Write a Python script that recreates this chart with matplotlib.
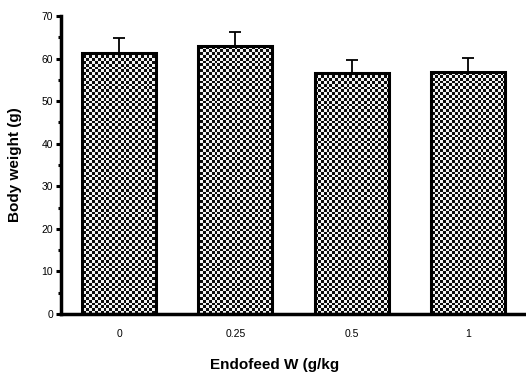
import numpy as np
import matplotlib
matplotlib.use("Agg")
import matplotlib.pyplot as plt
from matplotlib.ticker import MultipleLocator

plt.rcParams['font.family'] = ['Liberation Sans', 'DejaVu Sans']

doses = ['0', '0.25', '0.5', '1']
weights = [61.4, 63.0, 56.5, 56.9]
errors = [3.4, 3.3, 3.1, 3.3]

fig = plt.figure(figsize=(5.26, 3.74), dpi=100)
ax = fig.add_axes([0.116, 0.1604, 0.884, 0.7968])

x = np.arange(len(doses))
bars = ax.bar(x, weights, width=0.635, facecolor='none', edgecolor='black',
              linewidth=2.2, zorder=3)
ax.errorbar(x, weights, yerr=[np.zeros(len(errors)), errors], fmt='none',
            ecolor='black', elinewidth=1.3, capsize=4, capthick=1.3, zorder=2)

ax.set_xlim(-0.5, 3.5)
ax.set_ylim(0, 70)

# checkerboard fill, clipped to each bar
ny, nx = 105, 163
checker = (np.add.outer(np.arange(ny), np.arange(nx)) % 2) * 0.9 + 0.05
for b in bars:
    im = ax.imshow(checker, cmap='gray', vmin=0, vmax=1, interpolation='nearest',
                   extent=[-0.5, 3.5, 0, 70], aspect='auto', zorder=1)
    im.set_clip_path(b)

ax.set_xticks(x)
ax.set_xticklabels(doses)
ax.yaxis.set_major_locator(MultipleLocator(10))
ax.yaxis.set_minor_locator(MultipleLocator(5))

for s in ['top', 'right']:
    ax.spines[s].set_visible(False)
ax.spines['left'].set_linewidth(2.5)
ax.spines['bottom'].set_linewidth(2.5)

ax.tick_params(axis='x', length=0, pad=10.5, labelsize=7.5)
ax.tick_params(axis='y', which='major', length=3.6, width=2.2, pad=2, labelsize=7.5)
ax.tick_params(axis='y', which='minor', length=2.5, width=2.2)

ax.set_ylabel('Body weight (g)', fontsize=11, fontweight='bold')
ax.yaxis.set_label_coords(-0.084, 0.5)
ax.set_xlabel('Endofeed W (g/kg', fontsize=11, fontweight='bold')
ax.xaxis.set_label_coords(0.46, -0.146)

fig.savefig('out.png', dpi=100)
